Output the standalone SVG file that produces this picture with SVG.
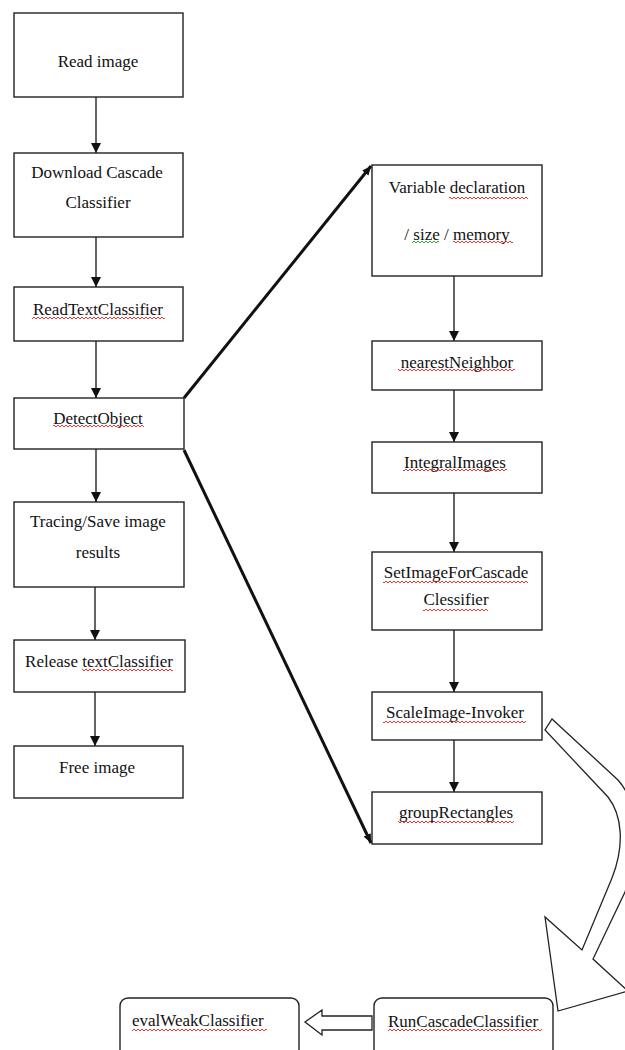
<svg xmlns="http://www.w3.org/2000/svg" width="625" height="1050" viewBox="0 0 625 1050">
<style>
.box{fill:#fff;stroke:#222;stroke-width:1.4}
.lbl{font-size:17px;fill:#111;text-anchor:middle}
.start{text-anchor:start}
.conn{stroke:#111;stroke-width:1.3;fill:none}
.thick{stroke:#111;stroke-width:3;fill:none}
.block{fill:#fff;stroke:#222;stroke-width:1.3}
.sq{fill:url(#sqr)}
.sqg{fill:url(#sqg)}
</style>
<defs>
<marker id="ah" markerUnits="userSpaceOnUse" markerWidth="10" markerHeight="12" refX="10" refY="5" orient="auto">
<path d="M0,0 L10,5 L0,10 Z" fill="#111"/>
</marker>
<marker id="ahT" markerUnits="userSpaceOnUse" markerWidth="10" markerHeight="10" refX="9" refY="4" orient="auto">
<path d="M0,0 L9,4 L0,8 Z" fill="#111"/>
</marker>
<pattern id="sqr" patternUnits="userSpaceOnUse" width="4" height="4">
<path d="M0,3 L2,1 L4,3" fill="none" stroke="#e02020" stroke-width="0.9"/>
</pattern>
<pattern id="sqg" patternUnits="userSpaceOnUse" width="4" height="4">
<path d="M0,3 L2,1 L4,3" fill="none" stroke="#1a9a1a" stroke-width="0.9"/>
</pattern>
</defs>

<g id="connectors">
<line class="conn" x1="96" y1="97" x2="96" y2="153" marker-end="url(#ah)"/>
<line class="conn" x1="96" y1="237" x2="96" y2="287" marker-end="url(#ah)"/>
<line class="conn" x1="96" y1="341" x2="96" y2="398" marker-end="url(#ah)"/>
<line class="conn" x1="96" y1="449" x2="96" y2="502" marker-end="url(#ah)"/>
<line class="conn" x1="95" y1="587" x2="95" y2="640" marker-end="url(#ah)"/>
<line class="conn" x1="95" y1="692" x2="95" y2="746" marker-end="url(#ah)"/>
<line class="conn" x1="454" y1="276" x2="454" y2="341" marker-end="url(#ah)"/>
<line class="conn" x1="454" y1="390" x2="454" y2="442" marker-end="url(#ah)"/>
<line class="conn" x1="454" y1="493" x2="454" y2="552" marker-end="url(#ah)"/>
<line class="conn" x1="454" y1="630" x2="454" y2="692" marker-end="url(#ah)"/>
<line class="conn" x1="454" y1="740" x2="454" y2="792" marker-end="url(#ah)"/>
<line class="thick" x1="184" y1="398" x2="371" y2="166" marker-end="url(#ahT)"/>
<line class="thick" x1="184" y1="450" x2="371" y2="843" marker-end="url(#ahT)"/>
<path class="block" d="M552,719 L618,780 C640,805 640,850 625,892 L593,959 L628,991 L558,1011 L545,917 L582,950 L612,878 C625,845 622,815 608,797 L545,730 Z"/>
<path class="block" d="M305,1022 L322,1010 L322,1016 L372,1016 L372,1030 L322,1030 L322,1035 Z"/>
</g>

<g id="nodes" font-family="Liberation Serif, Times New Roman, serif">
<g id="n-read-image">
<rect class="box" x="14" y="13" width="169" height="84"/>
<text class="lbl" x="98" y="67">Read image</text>
</g>
<g id="n-download">
<rect class="box" x="14" y="153" width="169" height="84"/>
<text class="lbl" x="97" y="178">Download Cascade</text>
<text class="lbl" x="98" y="208">Classifier</text>
</g>
<g id="n-readtext">
<rect class="box" x="14" y="287" width="169" height="54"/>
<text class="lbl" x="98" y="315">ReadTextClassifier</text>
<rect class="sq" x="32" y="316" width="133" height="4"/>
</g>
<g id="n-detect">
<rect class="box" x="14" y="398" width="170" height="51"/>
<text class="lbl" x="98" y="424">DetectObject</text>
<rect class="sq" x="53" y="424" width="91" height="4"/>
</g>
<g id="n-tracing">
<rect class="box" x="14" y="502" width="170" height="85"/>
<text class="lbl" x="98" y="527">Tracing/Save image</text>
<text class="lbl" x="98" y="558">results</text>
</g>
<g id="n-release">
<rect class="box" x="14" y="640" width="171" height="52"/>
<text class="lbl" x="99" y="667">Release textClassifier</text>
<rect class="sq" x="82" y="668" width="91" height="4"/>
</g>
<g id="n-free">
<rect class="box" x="14" y="746" width="169" height="52"/>
<text class="lbl" x="97" y="773">Free image</text>
</g>

<g id="n-variable">
<rect class="box" x="372" y="165" width="170" height="111"/>
<text class="lbl" x="457" y="193">Variable declaration</text>
<rect class="sq" x="449" y="196" width="79" height="4"/>
<text class="lbl" x="457" y="240">/ size / memory</text>
<rect class="sqg" x="412" y="240" width="27" height="4"/>
<rect class="sq" x="453" y="240" width="60" height="4"/>
</g>
<g id="n-nearest">
<rect class="box" x="372" y="341" width="170" height="49"/>
<text class="lbl" x="457" y="368">nearestNeighbor</text>
<rect class="sq" x="398" y="368" width="117" height="4"/>
</g>
<g id="n-integral">
<rect class="box" x="372" y="442" width="170" height="51"/>
<text class="lbl" x="455" y="468">IntegralImages</text>
<rect class="sq" x="403" y="468" width="104" height="4"/>
</g>
<g id="n-setimage">
<rect class="box" x="372" y="552" width="170" height="78"/>
<text class="lbl" x="456" y="578">SetImageForCascade</text>
<rect class="sq" x="383" y="580" width="145" height="4"/>
<text class="lbl" x="456" y="605">Clessifier</text>
<rect class="sq" x="423" y="608" width="65" height="4"/>
</g>
<g id="n-scale">
<rect class="box" x="372" y="692" width="170" height="48"/>
<text class="lbl" x="455" y="718">ScaleImage-Invoker</text>
<rect class="sq" x="383" y="720" width="143" height="4"/>
</g>
<g id="n-group">
<rect class="box" x="372" y="792" width="170" height="52"/>
<text class="lbl" x="456" y="818">groupRectangles</text>
<rect class="sq" x="398" y="820" width="116" height="4"/>
</g>
<g id="n-runcascade">
<rect class="box" x="374" y="998" width="179" height="70" rx="8"/>
<text class="lbl start" x="388" y="1027">RunCascadeClassifier</text>
<rect class="sq" x="388" y="1028" width="154" height="4"/>
</g>
<g id="n-evalweak">
<rect class="box" x="120" y="998" width="179" height="70" rx="8"/>
<text class="lbl start" x="132" y="1026">evalWeakClassifier</text>
<rect class="sq" x="132" y="1028" width="135" height="4"/>
</g>
</g>
</svg>
